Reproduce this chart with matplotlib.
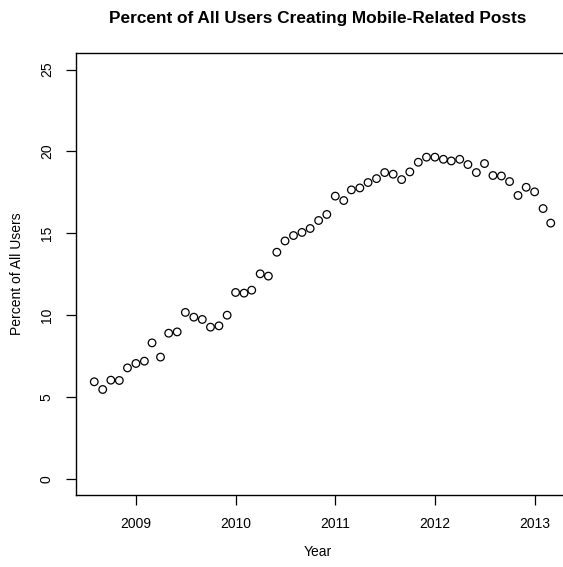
import matplotlib
matplotlib.use("Agg")
import matplotlib.pyplot as plt
import numpy as np
import datetime

# Monthly observations, Aug 2008 .. Mar 2013 (year, month)
start_year, start_month = 2008, 8
percent = [5.92, 5.45, 6.02, 6.00, 6.77, 7.04, 7.18, 8.30, 7.43, 8.89,
           8.97, 10.16, 9.87, 9.73, 9.26, 9.34, 9.99, 11.38, 11.34, 11.52,
           12.52, 12.38, 13.84, 14.53, 14.86, 15.05, 15.29, 15.78, 16.15, 17.27,
           17.00, 17.65, 17.77, 18.10, 18.34, 18.71, 18.61, 18.28, 18.75, 19.34,
           19.65, 19.65, 19.52, 19.42, 19.52, 19.20, 18.71, 19.26, 18.53, 18.50,
           18.16, 17.31, 17.81, 17.53, 16.51, 15.62]

year_ticks = [2009, 2010, 2011, 2012, 2013]
y_ticks = [0, 5, 10, 15, 20, 25]


def dec_year(y, m):
    d = datetime.date(y, m, 1)
    y0 = datetime.date(y, 1, 1)
    y1 = datetime.date(y + 1, 1, 1)
    return y + (d - y0).days / (y1 - y0).days


xs = []
y, m = start_year, start_month
for _ in percent:
    xs.append(dec_year(y, m))
    m += 1
    if m > 12:
        m = 1
        y += 1

plt.rcParams['font.family'] = ['Liberation Sans', 'DejaVu Sans']

W, H = 563, 567
fig = plt.figure(figsize=(W / 100, H / 100), dpi=100)
left, right, top, bottom = 76, 569, 53.3, 495
ax = fig.add_axes([left / W, 1 - bottom / H, (right - left) / W, (bottom - top) / H])

ax.scatter(xs, percent, s=30, facecolors='none', edgecolors='black', linewidths=0.9)

xr = max(xs) - min(xs)
ax.set_xlim(min(xs) - 0.04 * xr, max(xs) + 0.04 * xr)
ax.set_ylim(-1, 26)
ax.set_xticks(year_ticks)
ax.set_xticklabels([str(t) for t in year_ticks])
ax.set_yticks(y_ticks)
ax.set_yticklabels([str(t) for t in y_ticks], rotation=90, va='center')

for s in ax.spines.values():
    s.set_linewidth(1.0)
    s.set_color('black')
ax.tick_params(axis='both', length=7, width=0.9, color='black', labelsize=10, pad=9)

fig.text((76 + 559) / 2 / W, 1 - 19 / H, "Percent of All Users Creating Mobile-Related Posts",
         ha='center', va='center', fontsize=12.4, fontweight='bold')
fig.text((76 + 559) / 2 / W, 1 - 552 / H, "Year", ha='center', va='center', fontsize=10)
fig.text(17 / W, 1 - 274 / H, "Percent of All Users", ha='center', va='center', rotation=90, fontsize=10)

fig.savefig("out.png", dpi=100)
